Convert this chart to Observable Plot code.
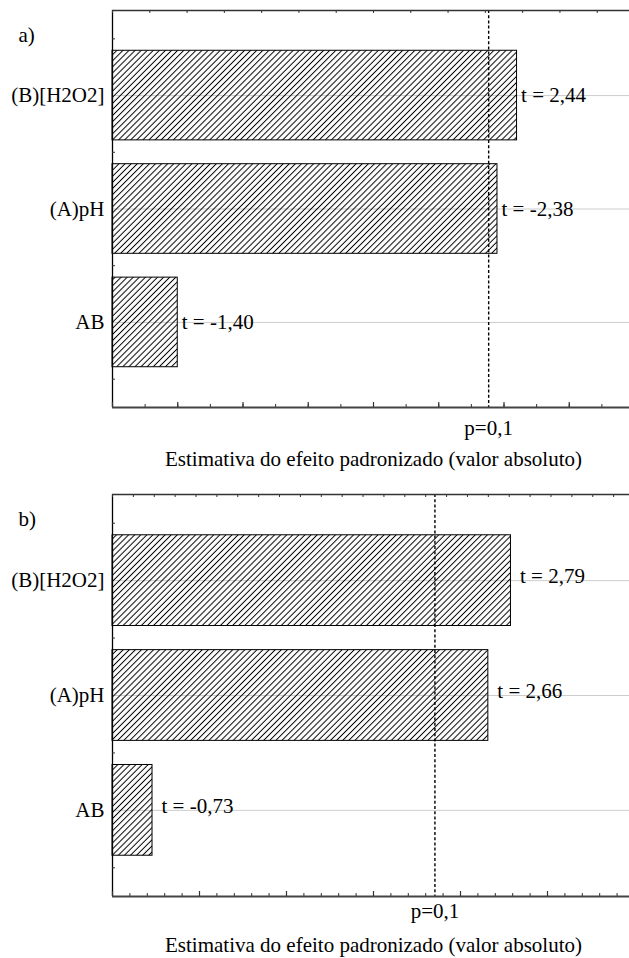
<!DOCTYPE html>
<html>
<head>
<meta charset="utf-8">
<script src="https://cdn.jsdelivr.net/npm/d3@7"></script>
<script src="https://cdn.jsdelivr.net/npm/@observablehq/plot@0.6"></script>
<style>
  html, body { margin: 0; padding: 0; background: #fff; }
  #chart { width: 629px; }
  #chart svg { display: block; overflow: hidden; }
  #chart svg text { font-family: "Liberation Serif", "Times New Roman", serif !important; }
</style>
</head>
<body>
<div id="chart"></div>
<script>
// Pareto charts of standardized effects (t values) for two responses
const categories = ["(B)[H2O2]", "(A)pH", "AB"];
const effectsA = [2.44, -2.38, -1.40];
const effectsB = [2.79, 2.66, -0.73];
const tCritical = 2.353;            // two-sided t for p = 0.1
const pLabel = "p=0,1";
const axisTitle = "Estimativa do efeito padronizado (valor absoluto)";
const panelLetters = ["a)", "b)"];
const xDomainA = [1.2, 2.8];
const xDomainB = [0.5, 3.5];
const majorStepA = 0.2;
const majorStepB = 0.5;
const minorStep = 0.1;

const FONT = "Liberation Serif, Times New Roman, serif";
const fmtT = v => "t = " + d3.format(".2f")(v).replace(".", ",").replace("\u2212", "-");

function panel({id, letter, effects, xDomain, majorStep, topDivisions, height,
                marginTop, marginBottom, labelDx, labelDy, pDy, titleDy}) {
  const W = 629, left = 112, right = 634;
  const frameH = height - marginTop - marginBottom;
  const frameW = W - left;
  const [x0, x1] = xDomain;
  const rows = categories.map((name, i) => ({name, i, t: effects[i], abs: Math.abs(effects[i])}));

  const n = Math.round((x1 - x0) / minorStep);
  const minor = d3.range(n + 1).map(k => x0 + k * minorStep);
  const major = minor.filter(v => {
    const r = (v - x0) / majorStep;
    return Math.abs(r - Math.round(r)) < 1e-6;
  });
  const topTicks = d3.range(topDivisions + 1).map(k => x0 + k * (x1 - x0) / topDivisions);
  const bandEdges = d3.range(categories.length + 1).map(k => k - 0.5);
  const txt = {fontSize: 21, fontFamily: FONT, fill: "#000"};

  const svg = Plot.plot({
    width: W,
    height,
    marginLeft: left,
    marginRight: 0,
    marginTop,
    marginBottom,
    style: {fontFamily: FONT, fontSize: "21px", color: "#000", background: "#fff"},
    x: {domain: xDomain, range: [left, right], axis: null},
    y: {domain: [-0.75, categories.length - 0.25], range: [marginTop, height - marginBottom], axis: null},
    marks: [
      // horizontal grid at each effect
      Plot.ruleY(rows, {y: "i", stroke: "#cdcdcd", strokeWidth: 1}),
      // hatched bars, |t|
      Plot.rect(rows, {
        x1: () => x0, x2: "abs",
        y1: d => d.i - 0.395, y2: d => d.i + 0.395,
        fill: "none", stroke: "#000", strokeWidth: 1
      }),
      // significance line
      Plot.ruleX([tCritical], {stroke: "#000", strokeWidth: 1.4, strokeDasharray: "3,2.2"}),
      // value labels
      Plot.text(rows, {
        x: "abs", y: "i", text: d => fmtT(d.t),
        textAnchor: "start", dx: labelDx, dy: labelDy, ...txt
      }),
      // frame lines
      Plot.ruleX([x0], {stroke: "#000", strokeWidth: 1.3}),
      Plot.ruleY([-0.75], {stroke: "#333", strokeWidth: 1.5}),
      Plot.ruleY([categories.length - 0.25], {stroke: "#444", strokeWidth: 2}),
      // inward ticks
      Plot.ruleX(minor, {insetTop: frameH - 3, stroke: "#333", strokeWidth: 1}),
      Plot.ruleX(major, {insetTop: frameH - 5, stroke: "#333", strokeWidth: 1.2}),
      Plot.ruleX(topTicks, {insetBottom: frameH - 3, stroke: "#333", strokeWidth: 1}),
      Plot.ruleY(bandEdges, {insetRight: frameW - 3, stroke: "#333", strokeWidth: 1}),
      // category labels
      Plot.axisY({
        ticks: d3.range(categories.length),
        tickFormat: i => categories[i],
        tickSize: 0, tickPadding: 8, fontSize: 21, fontFamily: FONT, label: null
      }),
      // critical value label and axis title
      Plot.text([tCritical], {x: d => d, frameAnchor: "bottom", dy: pDy, text: () => pLabel, ...txt}),
      Plot.text([(x0 + x1) / 2], {x: d => d, frameAnchor: "bottom", dy: titleDy, text: () => axisTitle, ...txt}),
      // panel letter
      Plot.text([letter], {frameAnchor: "top-left", dx: -94, dy: 17, textAnchor: "start", text: d => d, ...txt})
    ]
  });

  // diagonal hatch pattern for the bars
  const sel = d3.select(svg);
  const defs = sel.insert("defs", ":first-child");
  const pat = defs.append("pattern")
    .attr("id", id)
    .attr("patternUnits", "userSpaceOnUse")
    .attr("width", 4.3).attr("height", 4.3)
    .attr("patternTransform", "rotate(45)");
  pat.append("line")
    .attr("x1", 2.15).attr("y1", -1).attr("x2", 2.15).attr("y2", 5.3)
    .attr("stroke", "#000").attr("stroke-width", 1);
  sel.selectAll('g[aria-label="rect"] rect').attr("fill", `url(#${id})`);
  return svg;
}

const chart = document.getElementById("chart");
chart.appendChild(panel({
  id: "hatchA", letter: panelLetters[0], effects: effectsA, xDomain: xDomainA, majorStep: majorStepA,
  topDivisions: 14, height: 478, marginTop: 10, marginBottom: 71,
  labelDx: 4, labelDy: 0, pDy: 27, titleDy: 58
}));
chart.appendChild(panel({
  id: "hatchB", letter: panelLetters[1], effects: effectsB, xDomain: xDomainB, majorStep: majorStepB,
  topDivisions: 25, height: 480, marginTop: 16, marginBottom: 62,
  labelDx: 9, labelDy: -4, pDy: 21, titleDy: 55
}));
</script>
</body>
</html>
